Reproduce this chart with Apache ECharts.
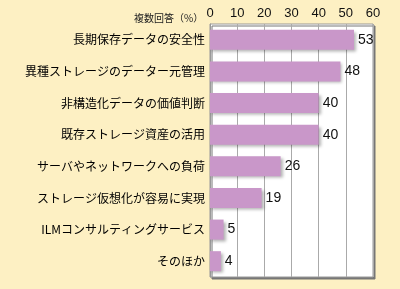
<!DOCTYPE html>
<html>
<head>
<meta charset="utf-8">
<script src="https://cdn.jsdelivr.net/npm/echarts@6/dist/echarts.min.js"></script>
<style>
  html, body { margin: 0; padding: 0; background: #fdf0c3; }
  #chart { width: 400px; height: 289px; }
</style>
</head>
<body>
<div id="chart"></div>
<script>
const categories = [
  '長期保存データの安全性',
  '異種ストレージのデーター元管理',
  '非構造化データの価値判断',
  '既存ストレージ資産の活用',
  'サーバやネットワークへの負荷',
  'ストレージ仮想化が容易に実現',
  'ILMコンサルティングサービス',
  'そのほか'
]
const values = [53, 48, 40, 40, 26, 19, 5, 4]
const unitLabel = '複数回答（%）'

const font = '"Noto Sans CJK JP", sans-serif'
const numFont = '"Liberation Sans", Arial, sans-serif'
const chart = echarts.init(document.getElementById('chart'))
chart.setOption({
  backgroundColor: '#fdf0c3',
  animation: false,
  title: {
    text: unitLabel,
    left: 129,
    top: 8,
    textStyle: { fontSize: 10, fontWeight: 'normal', color: '#222', fontFamily: font }
  },
  grid: {
    left: 210,
    right: 27,
    top: 24,
    bottom: 12,
    show: true,
    backgroundColor: '#fff',
    borderColor: '#999',
    borderWidth: 1,
    shadowColor: '#777',
    shadowOffsetX: 2,
    shadowOffsetY: 2,
    shadowBlur: 0
  },
  xAxis: {
    type: 'value',
    position: 'top',
    min: 0,
    max: 60,
    interval: 10,
    axisLine: { show: false },
    axisTick: { show: false },
    axisLabel: { margin: 4, fontSize: 13, color: '#111', fontFamily: numFont },
    splitLine: { lineStyle: { color: '#aaa' } }
  },
  yAxis: {
    type: 'category',
    inverse: true,
    data: categories,
    axisLine: { lineStyle: { color: '#999' } },
    axisTick: { inside: true, length: 3, lineStyle: { color: '#555' } },
    axisLabel: { margin: 5, fontSize: 12, color: '#000', fontFamily: font }
  },
  series: [{
    type: 'bar',
    data: values,
    barWidth: 20,
    itemStyle: {
      color: '#c997c9',
      shadowColor: 'rgba(0,0,0,0.3)',
      shadowBlur: 3,
      shadowOffsetX: 2,
      shadowOffsetY: 2
    },
    label: {
      show: true,
      position: 'right',
      distance: 4,
      fontSize: 14,
      color: '#111',
      fontFamily: numFont
    }
  }]
})
</script>
</body>
</html>
